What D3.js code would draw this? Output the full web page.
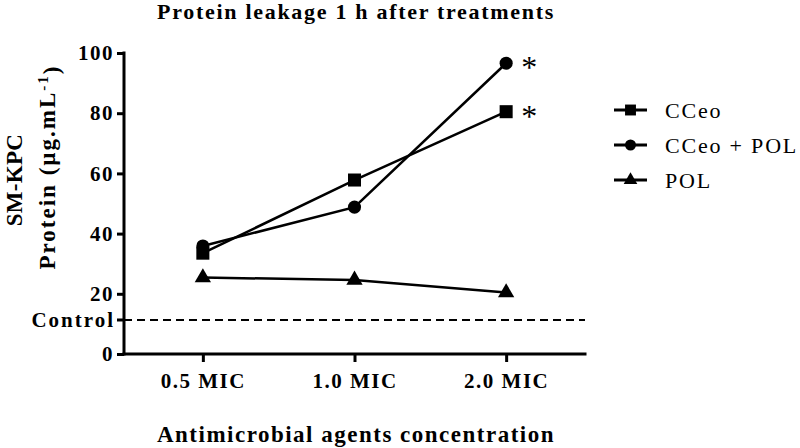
<!DOCTYPE html>
<html lang="en">
<head>
  <meta charset="UTF-8">
  <title>Protein leakage 1 h after treatments</title>
  <script src="https://d3js.org/d3.v7.min.js"></script>
  <style>
    body { margin: 0; background: white; }
    svg { display: block; font-family: "Liberation Serif", "Times New Roman", serif; }
    .bold { font-weight: bold; }
  </style>
</head>
<body>
<svg width="800" height="448"></svg>

<script>
  // Data
  const concentrations = ["0.5 MIC", "1.0 MIC", "2.0 MIC"];
  const cceo = [33.5, 57.8, 80.5];
  const cceoPol = [35.9, 48.8, 96.6];
  const pol = [25.4, 24.6, 20.4];
  const controlValue = 11.3;
  const yTicks = [0, 20, 40, 60, 80, 100];
  const significant = ["CCeo", "CCeo + POL"]; // asterisks at 2.0 MIC

  const series = [
    { name: "CCeo", values: cceo, symbol: d3.symbolSquare, size: 170 },
    { name: "CCeo + POL", values: cceoPol, symbol: d3.symbolCircle, size: 135 },
    { name: "POL", values: pol, symbol: d3.symbolTriangle, size: 115 }
  ];

  const svg = d3.select("svg");
  const margin = { top: 53, right: 215, bottom: 94, left: 124 };
  const width = 800 - margin.left - margin.right;
  const height = 448 - margin.top - margin.bottom;
  const g = svg.append("g").attr("transform", `translate(${margin.left},${margin.top})`);

  const x = d3.scalePoint().domain(concentrations).range([0, width]).padding(0.52);
  const y = d3.scaleLinear().domain([0, 100]).range([height, 0]);

  // Control line
  g.append("line")
    .attr("x1", 0).attr("x2", width)
    .attr("y1", y(controlValue)).attr("y2", y(controlValue))
    .attr("stroke", "black").attr("stroke-width", 2.2)
    .attr("stroke-dasharray", "8,5");

  // Axes
  const yAxis = g.append("g")
    .call(d3.axisLeft(y).tickValues(yTicks).tickSize(7).tickPadding(3));
  const xAxis = g.append("g")
    .attr("transform", `translate(0,${height})`)
    .call(d3.axisBottom(x).tickSize(8).tickPadding(4));

  [yAxis, xAxis].forEach(ax => {
    ax.select(".domain").attr("stroke-width", 3).attr("stroke-linecap", "square");
    ax.selectAll(".tick line").attr("stroke-width", 3);
    ax.selectAll("text")
      .attr("class", "bold")
      .style("font-family", "Liberation Serif, serif")
      .style("font-size", "21px")
      .style("letter-spacing", "1.5px")
      .attr("fill", "black");
  });
  xAxis.selectAll(".tick text").attr("dy", "1.05em");
  xAxis.select(".domain").attr("d", `M0,0H${width}`);
  yAxis.select(".domain").attr("d", `M0,0V${height}`);

  // Control tick
  const ctl = g.append("g").attr("transform", `translate(0,${y(controlValue)})`);
  ctl.append("line").attr("x1", -7).attr("x2", 0).attr("stroke", "black").attr("stroke-width", 3);
  ctl.append("text")
    .attr("class", "bold")
    .attr("x", -9).attr("dy", "0.32em")
    .attr("text-anchor", "end")
    .style("font-size", "21px")
    .style("letter-spacing", "2px")
    .text("Control");

  // Lines
  const line = d3.line()
    .x((d, i) => x(concentrations[i]))
    .y(d => y(d));

  series.forEach(s => {
    g.append("path")
      .datum(s.values)
      .attr("fill", "none")
      .attr("stroke", "black")
      .attr("stroke-width", 2.5)
      .attr("d", line);
  });

  series.forEach(s => {
    g.selectAll(null)
      .data(s.values)
      .join("path")
        .attr("transform", (d, i) => `translate(${x(concentrations[i])},${y(d)})`)
        .attr("d", d3.symbol().type(s.symbol).size(s.size))
        .attr("fill", "black");
  });

  // Significance asterisks
  series.filter(s => significant.includes(s.name)).forEach(s => {
    g.append("text")
      .attr("x", x(concentrations[2]) + 15)
      .attr("y", y(s.values[2]) + 15)
      .style("font-size", "32px")
      .text("*");
  });

  // Titles
  svg.append("text")
    .attr("class", "bold")
    .attr("x", 356).attr("y", 19)
    .attr("text-anchor", "middle")
    .style("font-size", "22px")
    .style("letter-spacing", "1.7px")
    .text("Protein leakage 1 h after treatments");

  svg.append("text")
    .attr("class", "bold")
    .attr("x", 356).attr("y", 442)
    .attr("text-anchor", "middle")
    .style("font-size", "23px")
    .style("letter-spacing", "1.5px")
    .text("Antimicrobial agents concentration");

  svg.append("text")
    .attr("class", "bold")
    .attr("transform", "translate(22,180) rotate(-90)")
    .attr("text-anchor", "middle")
    .style("font-size", "23px")
    .style("letter-spacing", "0.3px")
    .text("SM-KPC");

  const protein = svg.append("text")
    .attr("class", "bold")
    .attr("transform", "translate(55,167) rotate(-90)")
    .attr("text-anchor", "middle")
    .style("font-size", "23px")
    .style("letter-spacing", "2px");
  protein.append("tspan").text("Protein (µg.mL");
  protein.append("tspan").attr("dy", "-0.45em").style("font-size", "15px").text("-1");
  protein.append("tspan").attr("dy", "0.45em").text(")");

  // Legend
  const legend = svg.append("g").attr("transform", "translate(614,110)");
  series.forEach((s, i) => {
    const row = legend.append("g").attr("transform", `translate(0,${i * 35})`);
    row.append("line").attr("x1", 0).attr("x2", 33).attr("stroke", "black").attr("stroke-width", 3);
    row.append("path")
      .attr("transform", "translate(16.5,0)")
      .attr("d", d3.symbol().type(s.symbol).size(s.size * 0.7))
      .attr("fill", "black");
    row.append("text")
      .attr("x", 51).attr("dy", "0.35em")
      .style("font-size", "22px")
      .style("letter-spacing", "1.8px")
      .text(s.name);
  });
</script>
</body>
</html>
